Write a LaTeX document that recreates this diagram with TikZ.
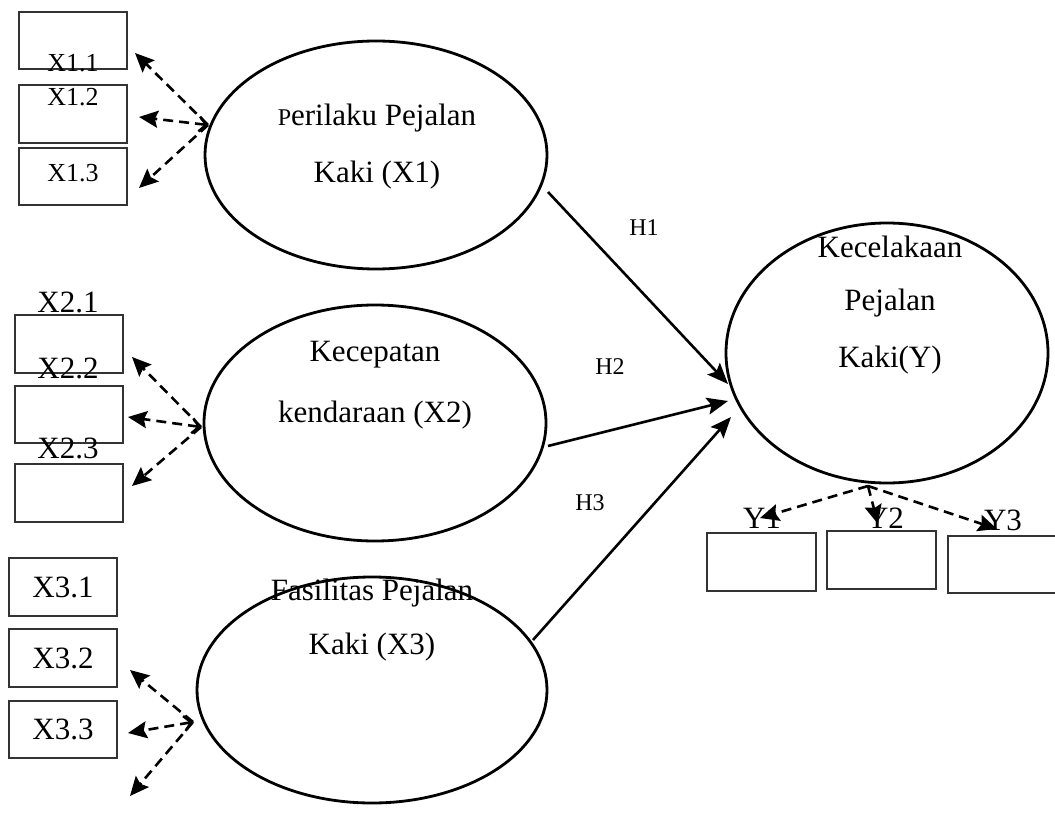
\documentclass[tikz,border=0pt]{standalone}
\usepackage{fontspec}
\setmainfont{Liberation Serif}
\usetikzlibrary{arrows.meta,shapes.geometric}
\begin{document}
\begin{tikzpicture}[x=1pt,y=-1pt,
  latent/.style={draw,ellipse,line width=2.8pt,inner sep=0pt},
  indbox/.style={draw=black!80,line width=1.6pt,rectangle,inner sep=0pt},
  bigtxt/.style={font=\fontsize{31}{36}\selectfont,inner sep=0pt},
  midtxt/.style={font=\fontsize{26}{30}\selectfont,inner sep=0pt},
  smalltxt/.style={font=\fontsize{24}{28}\selectfont,inner sep=0pt},
  hpath/.style={line width=2.6pt,-{Stealth[length=21pt,width=17pt,inset=4pt]}},
  load/.style={line width=2.6pt,dash pattern=on 10pt off 6pt,-{Stealth[length=19pt,width=17pt,inset=3pt]}},
  loadb/.style={line width=2.6pt,dash pattern=on 10pt off 6pt,{Straight Barb[length=7pt,width=15pt]}-{Stealth[length=19pt,width=17pt,inset=3pt]}}
]
\useasboundingbox (0,0) rectangle (1055,837);

% latent variables
\node[latent,minimum width=342pt,minimum height=228pt] (e1) at (376,155) {};
\node[latent,minimum width=342pt,minimum height=236pt] (e2) at (375,423) {};
\node[latent,minimum width=350pt,minimum height=226pt] (e3) at (372,690) {};
\node[latent,minimum width=322pt,minimum height=260pt] (ey) at (887,353) {};

\node[bigtxt] (t1a) at (377,118) {{\fontsize{24}{28}\selectfont P}erilaku Pejalan};
\node[bigtxt] (t1b) at (377,175) {Kaki (X1)};
\node[bigtxt] (t2a) at (375,355) {Kecepatan};
\node[bigtxt] (t2b) at (375,415) {kendaraan (X2)};
\node[bigtxt] (t3a) at (372,593) {Fasilitas Pejalan};
\node[bigtxt] (t3b) at (372,647) {Kaki (X3)};
\node[bigtxt] (tya) at (890,247) {Kecelakaan};
\node[bigtxt] (tyb) at (890,303) {Pejalan};
\node[bigtxt] (tyc) at (890,360) {Kaki(Y)};

% X1 indicators
\node[indbox,minimum width=108pt,minimum height=57pt] (b11) at (73,40.5) {};
\node[indbox,minimum width=108pt,minimum height=58pt] (b12) at (73,114) {};
\node[indbox,minimum width=108pt,minimum height=57pt] (b13) at (73,176.5) {};
\node[midtxt] (l11) at (73,63) {X1.1};
\node[midtxt] (l12) at (73,97) {X1.2};
\node[midtxt] (l13) at (73,173) {X1.3};

% X2 indicators
\node[indbox,minimum width=108pt,minimum height=58pt] (b21) at (69,344) {};
\node[indbox,minimum width=108pt,minimum height=57pt] (b22) at (69,414.5) {};
\node[indbox,minimum width=108pt,minimum height=58pt] (b23) at (69,493) {};
\node[bigtxt] (l21) at (68,302) {X2.1};
\node[bigtxt] (l22) at (68,368) {X2.2};
\node[bigtxt] (l23) at (68,448) {X2.3};

% X3 indicators
\node[indbox,minimum width=108pt,minimum height=58pt,bigtxt] (b31) at (63,587) {X3.1};
\node[indbox,minimum width=108pt,minimum height=58pt,bigtxt] (b32) at (63,658) {X3.2};
\node[indbox,minimum width=108pt,minimum height=57pt,bigtxt] (b33) at (63,729.5) {X3.3};

% Y indicators
\node[indbox,minimum width=109pt,minimum height=58pt] (by1) at (761.5,562) {};
\node[indbox,minimum width=109pt,minimum height=58pt] (by2) at (881.5,560) {};
\node[indbox,minimum width=112pt,minimum height=57pt] (by3) at (1004,564.5) {};
\node[bigtxt] (ly1) at (762,518) {Y1};
\node[bigtxt] (ly2) at (885,518) {Y2};
\node[bigtxt] (ly3) at (1003,520) {Y3};

% connector end points
\coordinate (o1) at (208,125);
\coordinate (a11) at (135,53);
\coordinate (a12) at (139,117);
\coordinate (a13) at (139,188);
\coordinate (o2) at (201,427);
\coordinate (a21) at (132,357);
\coordinate (a22) at (128,417);
\coordinate (a23) at (132,486);
\coordinate (o3) at (193,722);
\coordinate (a31) at (130,670);
\coordinate (a32) at (128,733);
\coordinate (a33) at (130,796);
\coordinate (oy) at (868,486);
\coordinate (ay1) at (760,518);
\coordinate (ay2) at (878,524);
\coordinate (ay3) at (997,529);
\coordinate (s1) at (548,192);
\coordinate (s2) at (548,446);
\coordinate (s3) at (533,640);
\coordinate (h1) at (728,384);
\coordinate (h2) at (728,401);
\coordinate (h3) at (731,417);

% loadings
\draw[load] (o1) -- (a11);
\draw[loadb] (o1) -- (a12);
\draw[load] (o1) -- (a13);
\draw[load] (o2) -- (a21);
\draw[loadb] (o2) -- (a22);
\draw[load] (o2) -- (a23);
\draw[load] (o3) -- (a31);
\draw[loadb] (o3) -- (a32);
\draw[load] (o3) -- (a33);
\draw[load] (oy) -- (ay1);
\draw[load] (oy) -- (ay2);
\draw[load] (oy) -- (ay3);

% structural paths
\draw[hpath] (s1) -- (h1);
\draw[hpath] (s2) -- (h2);
\draw[hpath] (s3) -- (h3);
\node[smalltxt] (H1) at (644,228) {H1};
\node[smalltxt] (H2) at (610,367) {H2};
\node[smalltxt] (H3) at (590,503) {H3};
\end{tikzpicture}
\end{document}
